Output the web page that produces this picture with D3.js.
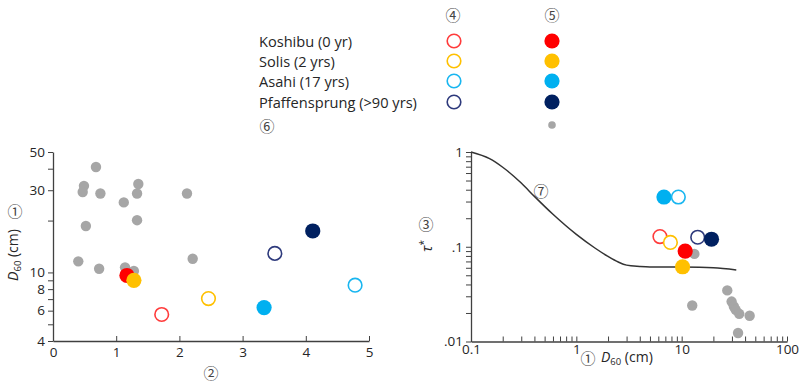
<!DOCTYPE html>
<html><head><meta charset="utf-8">
<script src="https://cdn.jsdelivr.net/npm/d3@7"></script>
<style>
body{margin:0;background:#fff;}
text{font-family:"Open Sans","DejaVu Sans",sans-serif;fill:#262626;}
.circ{font-family:"Noto Sans CJK JP","DejaVu Sans",sans-serif;fill:#444;}
</style></head>
<body>
<svg id="chart" width="804" height="384"></svg>
<script>
// ---------- data ----------
const seriesNames = ["Koshibu (0 yr)", "Solis (2 yrs)", "Asahi (17 yrs)", "Pfaffensprung (>90 yrs)"];
const seriesColors = ["#ff0000", "#ffc000", "#00b0f0", "#002060"];
const openStroke = ["#ff3b3b", "#ffc000", "#19b6f0", "#2e3a7c"];

// left panel: x = ② , y = D60 (cm)
const leftOpenX = [1.72, 2.46, 4.78, 3.51];
const leftOpenY = [5.7, 7.05, 8.43, 12.9];
const leftFilledX = [1.17, 1.28, 3.34, 4.11];
const leftFilledY = [9.6, 9.0, 6.25, 17.4];
const leftGrayX = [0.68, 0.49, 0.47, 0.75, 1.35, 1.33, 1.12, 1.33, 0.52, 2.12, 2.21, 0.40, 0.73, 1.14, 1.28];
const leftGrayY = [40.9, 31.8, 29.3, 28.7, 32.6, 28.7, 25.5, 20.1, 18.6, 28.7, 12.0, 11.6, 10.5, 10.7, 10.2];

// right panel: x = D60 (cm), y = tau*
const rightOpenD = [6.22, 7.82, 9.3, 14.2];
const rightOpenT = [0.128, 0.111, 0.335, 0.126];
const rightFilledD = [10.8, 10.2, 6.79, 19.2];
const rightFilledT = [0.090, 0.0615, 0.335, 0.12];
const rightGrayD = [13.2, 12.6, 27.1, 29.8, 31.3, 32.6, 35.2, 44.2, 34.3];
const rightGrayT = [0.084, 0.024, 0.0346, 0.0264, 0.0234, 0.0216, 0.0196, 0.0187, 0.0123];
const curveD = [0.1, 0.15, 0.2, 0.3, 0.4, 0.6, 1, 1.5, 2, 2.5, 3, 4, 5, 10, 20, 33];
const curveT = [1.0, 0.85, 0.69, 0.47, 0.34, 0.22, 0.135, 0.097, 0.079, 0.069, 0.064, 0.062, 0.0612, 0.061, 0.060, 0.057];

const leftXTicks = [0, 1, 2, 3, 4, 5];
const leftYTicks = [4, 5, 6, 7, 8, 9, 10, 20, 30, 40, 50];
const leftYLabels = [4, 6, 8, 10, 30, 50];
const rightXLabels = [0.1, 1, 10, 100];
const rightYLabels = [0.01, 0.1, 1];

// ---------- drawing ----------
const svg = d3.select("#chart");
const axisColor = "#404040";

function styleAxis(g) {
  g.selectAll("path.domain").attr("stroke", axisColor).attr("stroke-width", 1.3);
  g.selectAll(".tick line").attr("stroke", axisColor).attr("stroke-width", 1);
  g.selectAll(".tick text").attr("font-family", "Open Sans, DejaVu Sans, sans-serif")
    .attr("font-size", 13.5).attr("fill", "#262626");
}
function logTicks(lo, hi) {
  const t = [];
  for (let e = Math.log10(lo); e < Math.log10(hi); e++) {
    for (let m = 1; m < 10; m++) t.push(+(m * Math.pow(10, e)).toPrecision(3));
  }
  t.push(hi);
  return t;
}

// ----- left panel -----
const lx = d3.scaleLinear().domain([0, 5]).range([53, 369]);
const ly = d3.scaleLog().domain([4, 50]).range([341, 152]);

svg.append("g").attr("transform", "translate(0,341)")
  .call(d3.axisBottom(lx).tickValues(leftXTicks).tickFormat(d3.format("d"))
    .tickSizeInner(-5).tickSizeOuter(0).tickPadding(6))
  .call(styleAxis);
svg.append("g").attr("transform", "translate(53,0)")
  .call(d3.axisLeft(ly).tickValues(leftYTicks)
    .tickFormat(d => leftYLabels.includes(d) ? d : "")
    .tickSize(5).tickSizeOuter(0).tickPadding(3))
  .call(styleAxis);

const leftG = svg.append("g");
leftG.selectAll("circle.gray").data(leftGrayX).join("circle").attr("class", "gray")
  .attr("cx", d => lx(d)).attr("cy", (d, i) => ly(leftGrayY[i])).attr("r", 5.2)
  .attr("fill", "#a6a6a6");
seriesNames.forEach((s, i) => {
  leftG.append("circle").attr("cx", lx(leftOpenX[i])).attr("cy", ly(leftOpenY[i])).attr("r", 6.8)
    .attr("fill", "#fff").attr("stroke", openStroke[i]).attr("stroke-width", 1.6);
});
seriesNames.forEach((s, i) => {
  leftG.append("circle").attr("cx", lx(leftFilledX[i])).attr("cy", ly(leftFilledY[i])).attr("r", 7.6)
    .attr("fill", seriesColors[i]);
});

// left labels
const yl = svg.append("text").attr("transform", "translate(18,255) rotate(-90)")
  .attr("text-anchor", "middle").attr("font-size", 14);
yl.append("tspan").attr("font-style", "italic").text("D");
yl.append("tspan").attr("font-size", 9.5).attr("dy", 3).text("60");
yl.append("tspan").attr("dy", -3).text(" (cm)");
svg.append("text").attr("class", "circ").attr("x", 15).attr("y", 210).attr("text-anchor", "middle")
  .attr("dominant-baseline", "central").attr("font-size", 15).text("①");
svg.append("text").attr("class", "circ").attr("x", 211).attr("y", 372).attr("text-anchor", "middle")
  .attr("dominant-baseline", "central").attr("font-size", 15).text("②");

// ----- right panel -----
const rx = d3.scaleLog().domain([0.1, 100]).range([471, 787]);
const ry = d3.scaleLog().domain([0.01, 1]).range([341.5, 152]);
svg.append("g").attr("transform", "translate(0,341.5)")
  .call(d3.axisBottom(rx).tickValues(logTicks(0.1, 100))
    .tickFormat(d => rightXLabels.includes(d) ? String(d) : "")
    .tickSizeInner(-5).tickSizeOuter(0).tickPadding(3))
  .call(styleAxis);
svg.append("g").attr("transform", "translate(471,0)")
  .call(d3.axisLeft(ry).tickValues(logTicks(0.01, 1))
    .tickFormat(d => rightYLabels.includes(d) ? (d === 1 ? "1" : String(d).replace(/^0/, "")) : "")
    .tickSize(5).tickSizeOuter(0).tickPadding(3))
  .call(styleAxis);

const rightG = svg.append("g");
const line = d3.line().x(d => rx(d[0])).y(d => ry(d[1])).curve(d3.curveMonotoneX);
rightG.append("path").datum(curveD.map((d, i) => [d, curveT[i]]))
  .attr("d", line).attr("fill", "none").attr("stroke", "#333").attr("stroke-width", 1.5);
rightG.selectAll("circle.gray").data(rightGrayD).join("circle").attr("class", "gray")
  .attr("cx", d => rx(d)).attr("cy", (d, i) => ry(rightGrayT[i])).attr("r", 5.2)
  .attr("fill", "#a6a6a6");
// draw order as in the reference
const rightOrder = [["o", 0], ["o", 1], ["f", 2], ["o", 2], ["f", 0], ["f", 1], ["o", 3], ["f", 3]];
rightOrder.forEach(([k, i]) => {
  if (k === "o") {
    rightG.append("circle").attr("cx", rx(rightOpenD[i])).attr("cy", ry(rightOpenT[i])).attr("r", 6.8)
      .attr("fill", "#fff").attr("stroke", openStroke[i]).attr("stroke-width", 1.6);
  } else {
    rightG.append("circle").attr("cx", rx(rightFilledD[i])).attr("cy", ry(rightFilledT[i])).attr("r", 7.6)
      .attr("fill", seriesColors[i]);
  }
});
svg.append("text").attr("class", "circ").attr("x", 541).attr("y", 190).attr("text-anchor", "middle")
  .attr("dominant-baseline", "central").attr("font-size", 15).text("⑦");
svg.append("text").attr("class", "circ").attr("x", 426).attr("y", 223).attr("text-anchor", "middle")
  .attr("dominant-baseline", "central").attr("font-size", 15).text("③");
const tl = svg.append("text").attr("transform", "translate(432,246) rotate(-90)")
  .attr("text-anchor", "middle").attr("font-size", 15);
tl.append("tspan").attr("font-style", "italic").text("τ");
tl.append("tspan").attr("font-size", 10).attr("dy", -5).text("*");
svg.append("text").attr("class", "circ").attr("x", 588).attr("y", 357).attr("text-anchor", "middle")
  .attr("dominant-baseline", "central").attr("font-size", 15).text("①");
const xl = svg.append("text").attr("x", 601).attr("y", 362).attr("font-size", 14);
xl.append("tspan").attr("font-style", "italic").text("D");
xl.append("tspan").attr("font-size", 9.5).attr("dy", 3).text("60");
xl.append("tspan").attr("dy", -3).text(" (cm)");

// ----- legend -----
const legY = [41, 61, 81, 102];
const leg = svg.append("g");
seriesNames.forEach((s, i) => {
  leg.append("text").attr("x", 259).attr("y", legY[i]).attr("dominant-baseline", "central")
    .attr("font-size", 14.6).text(s);
  leg.append("circle").attr("cx", 454).attr("cy", legY[i]).attr("r", 6.8)
    .attr("fill", "#fff").attr("stroke", openStroke[i]).attr("stroke-width", 1.6);
  leg.append("circle").attr("cx", 552).attr("cy", legY[i]).attr("r", 7.6).attr("fill", seriesColors[i]);
});
leg.append("circle").attr("cx", 552).attr("cy", 125).attr("r", 3.8).attr("fill", "#a6a6a6");
[["④", 453, 14], ["⑤", 552, 14], ["⑥", 267, 125]].forEach(([t, x, y]) => {
  leg.append("text").attr("class", "circ").attr("x", x).attr("y", y).attr("text-anchor", "middle")
    .attr("dominant-baseline", "central").attr("font-size", 15).text(t);
});
</script>
</body></html>
